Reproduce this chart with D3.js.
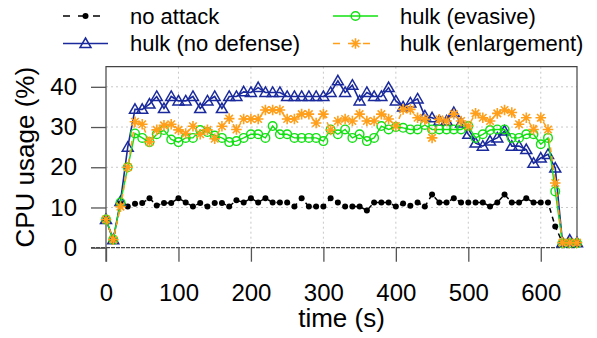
<!DOCTYPE html>
<html>
<head>
<meta charset="utf-8">
<script src="https://cdn.jsdelivr.net/npm/d3@7"></script>
<style>
  html, body { margin: 0; padding: 0; background: #fff; }
  svg { display: block; font-family: "Liberation Sans", Arial, sans-serif; }
</style>
</head>
<body>
<svg id="chart" width="597" height="338"></svg>
<script>
// ---- data ----
const times = d3.range(0, 651, 10);
const xTicks = [0, 100, 200, 300, 400, 500, 600];
const yTicks = [0, 10, 20, 30, 40];

const noAttack = [7, 2, 11, 10.25, 10.9, 11.1, 12.3, 10.5, 11.1, 11.1,
  12.3, 11.25, 10.25, 11.1, 10.25, 11.1, 11.1, 10.25, 11.8, 11.25,
  12.3, 11.25, 12.3, 11.25, 11.25, 11.25, 10.25, 12.3, 10.25, 10.25,
  10.25, 12.3, 11.25, 10.25, 10.25, 10.25, 9.25, 11.25, 11.25, 11.25,
  10.25, 11, 10.4, 11.25, 10.25, 13.2, 11.25, 11.25, 12.3, 11.25,
  11.25, 11.25, 11.25, 10.25, 11.25, 13.2, 11.25, 11.25, 12.3, 11.25,
  11.25, 11.25, 5.25, 1.25, 1.25, 1.25];

const hulkNoDefense = [7, 2, 11.5, 25, 34.4, 34.4, 35.7, 37.6, 34.6, 37.6,
  36.5, 36.5, 37.6, 34.6, 36.5, 37.6, 34.6, 37.6, 37.6, 38.75,
  38.6, 39.8, 38.6, 38.6, 38.6, 37.6, 37.6, 37.6, 37.6, 37.6,
  37.6, 38.6, 41.5, 38.6, 40.4, 36.5, 38.6, 37.6, 37.6, 39.8,
  36.5, 35, 36, 37, 32.75, 32.3, 31.5, 31.5, 33.6, 31,
  28.2, 26, 25.25, 26.5, 27.3, 29, 25.25, 25.25, 24.4, 21,
  22.3, 23.2, 19.8, 1.25, 1.9, 1.25];

const hulkEvasive = [7, 2, 11.25, 20, 28.4, 27.3, 26.25, 28.2, 29.25, 26.9,
  26.25, 27.3, 27.3, 29.25, 28.75, 27.9, 27.3, 26.25, 26.5, 27.3,
  28.2, 28.2, 27.3, 30.25, 28.2, 28.2, 27.3, 27.3, 27.3, 27.3,
  26.5, 29.4, 28.2, 29.4, 27.3, 28.2, 26.5, 27.3, 30.25, 29.4,
  30, 29.8, 29.4, 29.4, 30.5, 29.4, 29.4, 29.4, 29.4, 29.4,
  30.25, 27.3, 28.2, 29.25, 29.4, 29.4, 27.3, 27.3, 28.2, 28.2,
  25.7, 27.3, 14, 1.1, 1.1, 1.1];

const hulkEnlargement = [7, 2, 10.2, 20, 31.3, 30.7, 26.3, 29.3, 30.4, 30.7,
  29.3, 28.4, 30.2, 28.2, 29.3, 27.1, 30.2, 32.1, 29.4, 32,
  32, 32, 34.25, 34.25, 34.25, 32, 32, 33.2, 33.2, 31,
  33.2, 29.25, 31.5, 32, 31.5, 33.2, 31.5, 31.5, 33.2, 32,
  30.25, 34.4, 34.4, 32.3, 31.9, 27.3, 31.9, 31.5, 33.2, 31.5,
  30.25, 33.4, 32.3, 31.5, 33.4, 34.25, 33.6, 30.7, 32.3, 29.4,
  32.3, 29.4, 16.1, 1.25, 1.25, 1.25];

const seriesNames = ["no attack", "hulk (no defense)", "hulk (evasive)", "hulk (enlargement)"];

// ---- layout ----
const svg = d3.select("#chart");
const L = 106, R = 577, T = 66.7, B = 247.7;
const x = d3.scaleLinear().domain([0, 650]).range([L, R]);
const y = d3.scaleLinear().domain([0, 45]).range([B, T]);

const styles = {
  "no attack": { color: "#000000", dash: "5,4", marker: "dot", width: 1.5 },
  "hulk (no defense)": { color: "#1a2a9c", dash: null, marker: "tri", width: 1.6 },
  "hulk (evasive)": { color: "#11e011", dash: null, marker: "circ", width: 1.4 },
  "hulk (enlargement)": { color: "#ff9f1a", dash: "5,4", marker: "star", width: 1.5 }
};
const dataMap = {
  "no attack": noAttack,
  "hulk (no defense)": hulkNoDefense,
  "hulk (evasive)": hulkEvasive,
  "hulk (enlargement)": hulkEnlargement
};

// grid
const grid = svg.append("g");
grid.selectAll("line.gx").data(xTicks.filter(d => d > 0)).enter().append("line")
  .attr("x1", d => x(d)).attr("x2", d => x(d)).attr("y1", T).attr("y2", B)
  .attr("stroke", "#c8c8c8").attr("stroke-width", 1).attr("stroke-dasharray", "2,3");
grid.selectAll("line.gy").data(yTicks.filter(d => d > 0)).enter().append("line")
  .attr("x1", L).attr("x2", R).attr("y1", d => y(d)).attr("y2", d => y(d))
  .attr("stroke", "#c8c8c8").attr("stroke-width", 1).attr("stroke-dasharray", "2,3");

// frame (left, top, right) + bottom line at 0
svg.append("path").attr("d", `M${L},${B + 14}V${T}H${R}V${B}`)
  .attr("fill", "none").attr("stroke", "#444").attr("stroke-width", 1.2);
svg.append("line").attr("x1", L - 15).attr("x2", R).attr("y1", y(0)).attr("y2", y(0))
  .attr("stroke", "#444").attr("stroke-width", 1.3).attr("stroke-dasharray", "4,1");

// axes
const xAxis = d3.axisBottom(x).tickValues(xTicks).tickSize(14).tickPadding(22);
const gx = svg.append("g").attr("transform", `translate(0,${B})`).call(xAxis);
gx.select(".domain").remove();
gx.selectAll(".tick line").attr("stroke", "#555").attr("stroke-width", 1.3);
gx.selectAll(".tick text").attr("font-size", 24).attr("fill", "#000")
  .attr("font-family", "Liberation Sans, Arial, sans-serif");

const yAxis = d3.axisLeft(y).tickValues(yTicks).tickSize(15).tickPadding(14);
const gy = svg.append("g").attr("transform", `translate(${L},0)`).call(yAxis);
gy.select(".domain").remove();
gy.selectAll(".tick line").attr("stroke", "#555").attr("stroke-width", 1.3);
gy.selectAll(".tick text").attr("font-size", 24).attr("fill", "#000")
  .attr("font-family", "Liberation Sans, Arial, sans-serif");

// axis titles
svg.append("text").attr("x", (L + R) / 2).attr("y", 327).attr("text-anchor", "middle")
  .attr("font-size", 26).text("time (s)");
svg.append("text").attr("transform", `translate(34,${(T + B) / 2}) rotate(-90)`)
  .attr("text-anchor", "middle").attr("font-size", 26).text("CPU usage (%)");

// marker drawer
function drawMarker(g, type, color) {
  if (type === "dot") {
    g.append("circle").attr("r", 3).attr("fill", color);
  } else if (type === "tri") {
    g.append("path").attr("d", "M0,-5.5L5.5,4L-5.5,4Z").attr("fill", "none")
      .attr("stroke", color).attr("stroke-width", 1.5);
  } else if (type === "circ") {
    g.append("circle").attr("r", 4.3).attr("fill", "none")
      .attr("stroke", color).attr("stroke-width", 1.4);
  } else if (type === "star") {
    const r = 5.3, d = r * Math.SQRT1_2;
    g.append("path").attr("d", `M0,${-r}V${r}M${-r},0H${r}M${-d},${-d}L${d},${d}M${-d},${d}L${d},${-d}`)
      .attr("fill", "none").attr("stroke", color).attr("stroke-width", 1.6);
  }
}

const line = d3.line().x((d, i) => x(times[i])).y(d => y(d));

seriesNames.forEach(name => {
  const s = styles[name];
  const vals = dataMap[name];
  const g = svg.append("g");
  g.append("path").datum(vals).attr("d", line).attr("fill", "none")
    .attr("stroke", s.color).attr("stroke-width", s.width)
    .attr("stroke-dasharray", s.dash);
  vals.forEach((v, i) => {
    const mg = g.append("g").attr("transform", `translate(${x(times[i])},${y(v)})`);
    drawMarker(mg, s.marker, s.color);
  });
});

// legend
const legendPos = [
  { name: "no attack", lx: 63, ly: 16 },
  { name: "hulk (no defense)", lx: 63, ly: 43.5 },
  { name: "hulk (evasive)", lx: 333, ly: 16 },
  { name: "hulk (enlargement)", lx: 333, ly: 43.5 }
];
legendPos.forEach(p => {
  const s = styles[p.name];
  const g = svg.append("g");
  g.append("line").attr("x1", p.lx).attr("x2", p.lx + 45).attr("y1", p.ly).attr("y2", p.ly)
    .attr("stroke", s.color).attr("stroke-width", s.width)
    .attr("stroke-dasharray", s.dash ? "7,8" : null);
  const mg = g.append("g").attr("transform", `translate(${p.lx + 22.5},${p.ly})`);
  drawMarker(mg, s.marker, s.color);
  g.append("text").attr("x", p.lx + 67).attr("y", p.ly).attr("dy", "0.36em")
    .attr("font-size", 22).text(p.name);
});
</script>
</body>
</html>
